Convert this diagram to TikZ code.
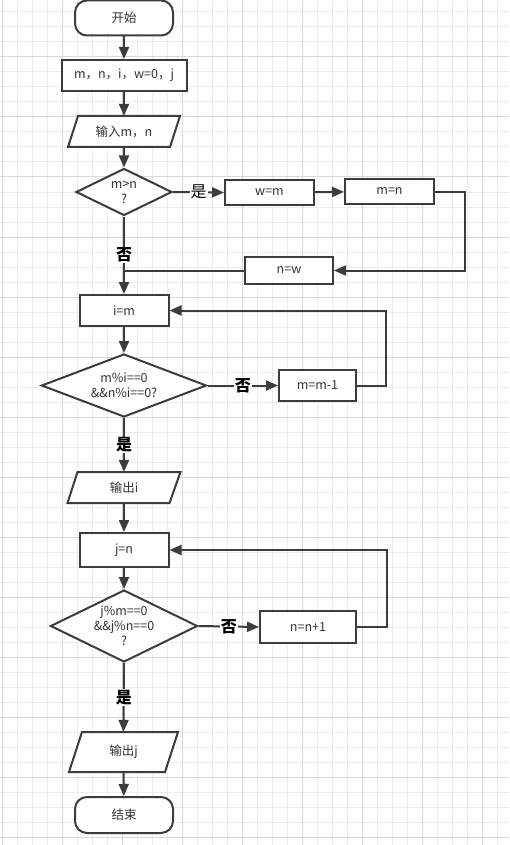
\documentclass[tikz,border=0pt]{standalone}
\usepackage{fontspec}
\setmainfont{Noto Sans CJK SC}
\usetikzlibrary{shapes.geometric,arrows.meta,calc}
\definecolor{ln}{RGB}{60,60,60}
\definecolor{tx}{RGB}{51,51,51}
\definecolor{gminor}{RGB}{236,236,236}
\definecolor{gmajor}{RGB}{216,216,216}
\begin{document}
\begin{tikzpicture}[x=1pt,y=-1pt,
  base/.style={draw=ln,line width=2pt,fill=white,text=tx,font=\fontsize{12.5}{15}\selectfont,align=center,inner sep=0pt},
  term/.style={base,rounded corners=12pt,minimum width=98pt,minimum height=35pt},
  proc/.style={base},
  parabox/.style={text=tx,font=\fontsize{12.5}{15}\selectfont,align=center,inner sep=0pt},
  paraline/.style={draw=ln,line width=2pt,fill=white,line join=miter},
  dia/.style={base,shape=diamond},
  txt/.style={text=tx,font=\fontsize{12.5}{15}\selectfont,align=center,inner sep=0pt},
  arr/.style={draw=ln,line width=2pt,-{Triangle[length=12pt,width=10pt]}},
  conn/.style={draw=ln,line width=2pt},
  lab/.style={fill=white,inner sep=1pt,text=black,font=\fontsize{16}{16}\selectfont\bfseries},
  labn/.style={fill=white,inner sep=1pt,text=black,font=\fontsize{16}{16}\selectfont}
]
\useasboundingbox (0,0) rectangle (509,845);
\fill[white] (0,0) rectangle (509,845);
% grid
\foreach \x in {2,17,...,509} \draw[gminor,line width=1pt] (\x,0) -- (\x,845);
\foreach \y in {12,27,...,845} \draw[gminor,line width=1pt] (0,\y) -- (509,\y);
\foreach \x in {2,62,...,509} \draw[gmajor,line width=1pt] (\x,0) -- (\x,845);
\foreach \y in {57,117,...,845} \draw[gmajor,line width=1pt] (0,\y) -- (509,\y);

% parallelogram outlines (drawn first, text nodes on top)
\coordinate (inc) at (124,131.5);
\draw[paraline] ($(inc)+(-56,15.5)$) -- ($(inc)+(46,15.5)$) -- ($(inc)+(56,-15.5)$) -- ($(inc)+(-46,-15.5)$) -- cycle;
\coordinate (outic) at (124,487.5);
\draw[paraline] ($(outic)+(-56.5,15.5)$) -- ($(outic)+(45.5,15.5)$) -- ($(outic)+(56.5,-15.5)$) -- ($(outic)+(-46.5,-15.5)$) -- cycle;
\coordinate (outjc) at (123.5,752);
\draw[paraline] ($(outjc)+(-54.5,20)$) -- ($(outjc)+(41.5,20)$) -- ($(outjc)+(54.5,-20)$) -- ($(outjc)+(-41.5,-20)$) -- cycle;

% nodes
\node[term] (start) at (124,18) {开始};
\node[proc,minimum width=125pt,minimum height=31pt] (init) at (124,75.5) {m，n，i，w=0，j};
\node[parabox,minimum width=100pt,minimum height=31pt] (in) at (inc) {输入m，n};
\node[dia,minimum width=96pt,minimum height=47pt] (d1) at (124,192) {};
\node[txt] (d1t) at (d1) {m>n\\?};
\node[proc,minimum width=89pt,minimum height=25pt] (wm) at (269.5,192.5) {w=m};
\node[proc,minimum width=89pt,minimum height=25pt] (mn) at (389.5,191.5) {m=n};
\node[proc,minimum width=88pt,minimum height=27pt] (nw) at (289,270.5) {n=w};
\node[proc,minimum width=89pt,minimum height=31pt] (im) at (124,310.5) {i=m};
\node[dia,minimum width=165pt,minimum height=63pt] (d2) at (124,385.5) {};
\node[txt] (d2t) at (d2) {m\%i==0\\\&\&n\%i==0?};
\node[proc,minimum width=77pt,minimum height=31pt] (mm1) at (317.5,385.5) {m=m-1};
\node[parabox,minimum width=100pt,minimum height=31pt] (outi) at (outic) {输出i};
\node[proc,minimum width=89pt,minimum height=34pt] (jn) at (124,550) {j=n};
\node[dia,minimum width=147pt,minimum height=72pt] (d3) at (124,626) {};
\node[txt] (d3t) at (d3) {j\%m==0\\\&\&j\%n==0\\?};
\node[proc,minimum width=96pt,minimum height=32pt] (nn1) at (308,627) {n=n+1};
\node[parabox,minimum width=96pt,minimum height=40pt] (outj) at (outjc) {输出j};
\node[term,minimum height=36pt] (end) at (124,815) {结束};

% connectors
\draw[arr] (start) -- (init);
\draw[arr] (init) -- (in);
\draw[arr] (in) -- (d1);
\draw[arr] (d1.east) -- node[labn]{是} (wm.west);
\draw[arr] (wm) -- (mn);
\draw[arr] (mn.east) -- ++(30,0) |- (nw.east);
\draw[conn] (nw.west) -- (nw.west -| d1.south);
\draw[arr] (d1.south) -- node[lab]{否} (im.north);
\draw[arr] (im) -- (d2);
\draw[arr] (d2.east) -- node[lab]{否} (mm1.west);
\draw[arr] (mm1.east) -- ++(29,0) |- (im.east);
\draw[arr] (d2.south) -- node[lab]{是} (outi.north);
\draw[arr] (outi) -- (jn);
\draw[arr] (jn) -- (d3);
\draw[arr] (d3.east) -- node[lab]{否} (nn1.west);
\draw[arr] (nn1.east) -- ++(30,0) |- (jn.east);
\draw[arr] (d3.south) -- node[lab]{是} (outj.north);
\draw[arr] (outj) -- (end);
\end{tikzpicture}
\end{document}
